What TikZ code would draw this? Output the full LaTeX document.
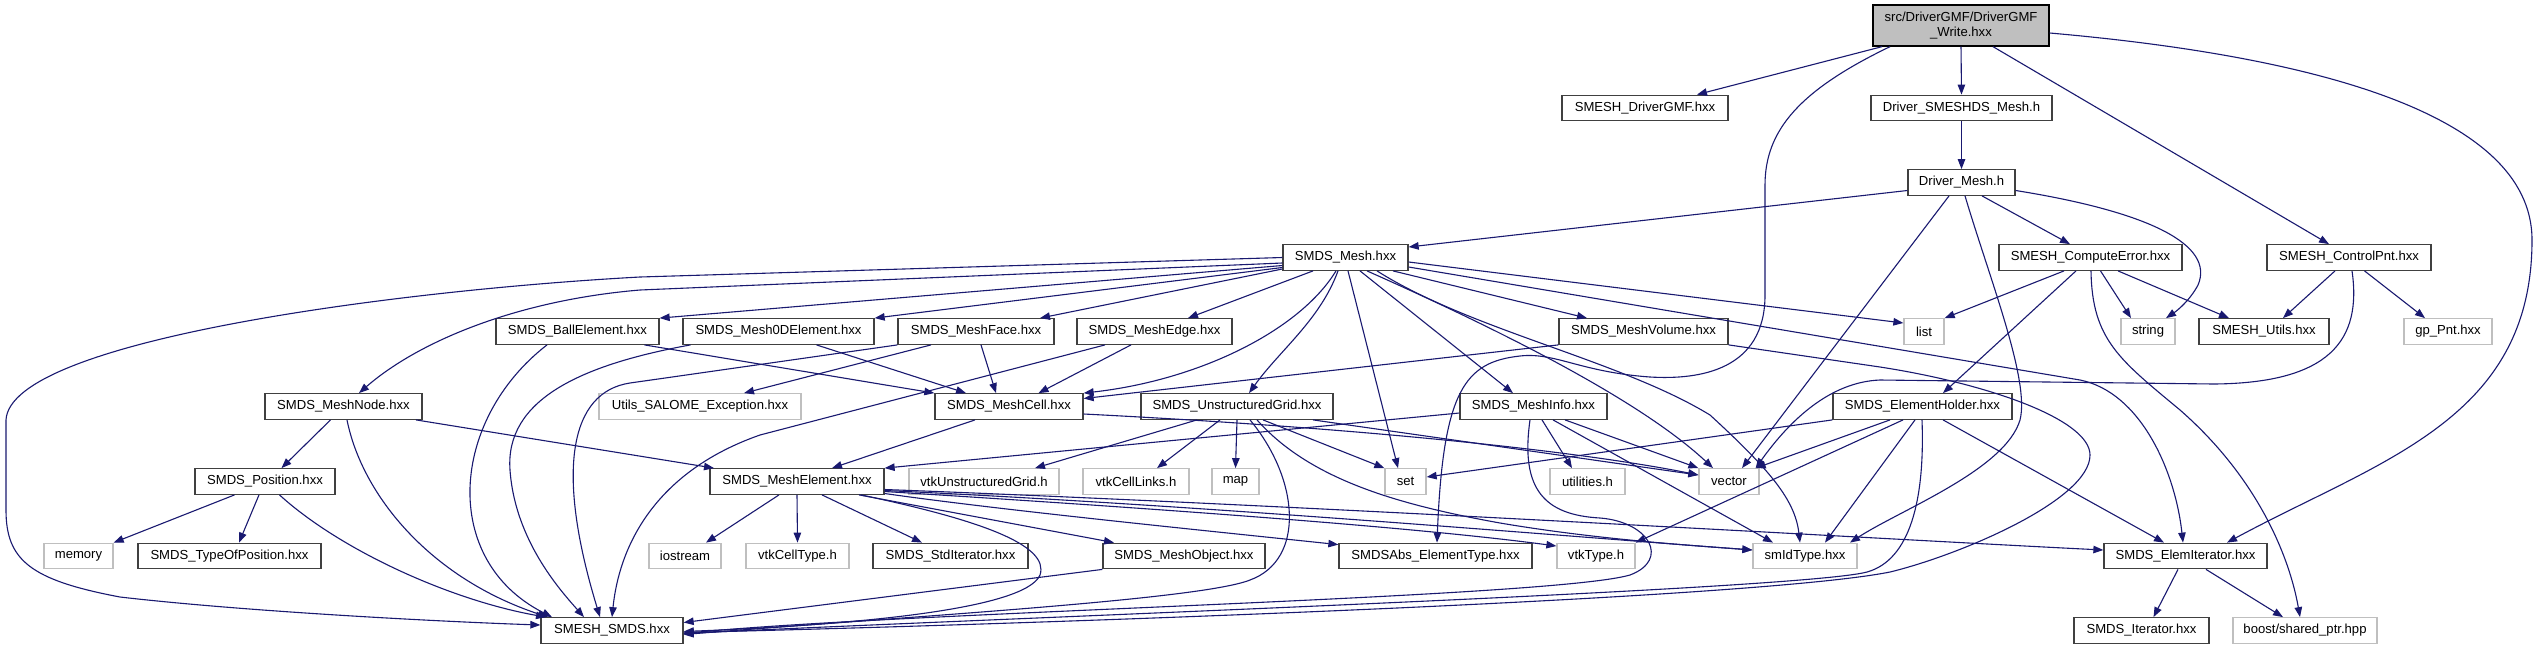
\documentclass[tikz,border=0pt]{standalone}
\usepackage{fontspec}
\setmainfont{Liberation Sans}
\usetikzlibrary{arrows.meta}
\definecolor{edgec}{HTML}{191970}
\definecolor{gbord}{HTML}{BFBFBF}
\definecolor{bbord}{HTML}{404040}
\definecolor{topfill}{HTML}{BFBFBF}
\begin{document}
\begin{tikzpicture}[x=1pt,y=-1pt,
  box/.style={draw=bbord, line width=1.3pt, fill=white, minimum height=25.5pt, inner sep=0pt, font=\fontsize{13.1pt}{15.5pt}\selectfont, text=black},
  gbox/.style={box, draw=gbord},
  e/.style={draw=edgec, line width=1.1pt, -{Triangle[length=10pt,width=7.5pt]}}]
\fill[white] (0,0) rectangle (2535,649);
\useasboundingbox (0,0) rectangle (2535,649);
% row 1
\node[box, fill=topfill, draw=black, minimum width=176pt, minimum height=41pt, align=center] (ntop) at (1961,25.5) {src/DriverGMF/DriverGMF\\\_Write.hxx};
% row 2
\node[box, minimum width=166pt] (ndrvgmf) at (1645,108) {SMESH\_DriverGMF.hxx};
\node[box, minimum width=181pt] (ndsmesh) at (1961.5,108) {Driver\_SMESHDS\_Mesh.h};
% row 3
\node[box, minimum width=107pt] (ndmesh) at (1961.5,182.5) {Driver\_Mesh.h};
% row 4
\node[box, minimum width=125pt] (nsmdsmesh) at (1345.5,257.5) {SMDS\_Mesh.hxx};
\node[box, minimum width=183pt] (ncomperr) at (2090.5,257.5) {SMESH\_ComputeError.hxx};
\node[box, minimum width=164pt] (nctrlpnt) at (2349,257.5) {SMESH\_ControlPnt.hxx};
% row 5
\node[box, minimum width=163pt] (nball) at (577.5,331.5) {SMDS\_BallElement.hxx};
\node[box, minimum width=191pt] (nzero) at (778.5,331.5) {SMDS\_Mesh0DElement.hxx};
\node[box, minimum width=156pt] (nface) at (976,331.5) {SMDS\_MeshFace.hxx};
\node[box, minimum width=155pt] (nedge) at (1154.5,331.5) {SMDS\_MeshEdge.hxx};
\node[box, minimum width=169pt] (nvolume) at (1643.5,331.5) {SMDS\_MeshVolume.hxx};
\node[gbox, minimum width=40pt] (nlist) at (1924,331.5) {list};
\node[gbox, minimum width=54pt] (nstring) at (2148,331.5) {string};
\node[box, minimum width=130pt] (nutils) at (2264,331.5) {SMESH\_Utils.hxx};
\node[gbox, minimum width=88pt] (ngppnt) at (2448,331.5) {gp\_Pnt.hxx};
% row 6
\node[box, minimum width=157pt] (nnode) at (343.5,406.5) {SMDS\_MeshNode.hxx};
\node[gbox, minimum width=202pt] (nsalome) at (700,406.5) {Utils\_SALOME\_Exception.hxx};
\node[box, minimum width=148pt] (ncell) at (1009,406.5) {SMDS\_MeshCell.hxx};
\node[box, minimum width=192pt] (nugrid) at (1237,406.5) {SMDS\_UnstructuredGrid.hxx};
\node[box, minimum width=147pt] (ninfo) at (1533.5,406.5) {SMDS\_MeshInfo.hxx};
\node[box, minimum width=179pt] (nholder) at (1922.5,406.5) {SMDS\_ElementHolder.hxx};
% row 7
\node[box, minimum width=140pt] (nposition) at (265,481.5) {SMDS\_Position.hxx};
\node[box, minimum width=174pt] (nelement) at (797,481.5) {SMDS\_MeshElement.hxx};
\node[gbox, minimum width=150pt] (nvtkug) at (984,481.5) {vtkUnstructuredGrid.h};
\node[gbox, minimum width=106pt] (nvtkcl) at (1136,481.5) {vtkCellLinks.h};
\node[gbox, minimum width=47pt] (nmap) at (1235.5,481.5) {map};
\node[gbox, minimum width=41pt] (nset) at (1405.5,481.5) {set};
\node[gbox, minimum width=75pt] (nutilities) at (1587.5,481.5) {utilities.h};
\node[gbox, minimum width=60pt] (nvector) at (1729,481.5) {vector};
% row 8
\node[gbox, minimum width=69pt] (nmemory) at (78.5,556) {memory};
\node[box, minimum width=183pt] (ntypepos) at (229.5,556) {SMDS\_TypeOfPosition.hxx};
\node[gbox, minimum width=72pt] (niostream) at (685,556) {iostream};
\node[gbox, minimum width=103pt] (nvtkct) at (797.5,556) {vtkCellType.h};
\node[box, minimum width=155pt] (nstditer) at (950.5,556) {SMDS\_StdIterator.hxx};
\node[box, minimum width=162pt] (nmeshobj) at (1184,556) {SMDS\_MeshObject.hxx};
\node[box, minimum width=193pt] (nabs) at (1435.5,556) {SMDSAbs\_ElementType.hxx};
\node[gbox, minimum width=78pt] (nvtktype) at (1596,556) {vtkType.h};
\node[gbox, minimum width=104pt] (nsmid) at (1805,556) {smIdType.hxx};
\node[box, minimum width=163pt] (nelemiter) at (2185.5,556) {SMDS\_ElemIterator.hxx};
% row 9
\node[box, minimum width=142pt] (nsmds) at (612,630.5) {SMESH\_SMDS.hxx};
\node[box, minimum width=135pt] (niter) at (2141.5,630.5) {SMDS\_Iterator.hxx};
\node[gbox, minimum width=144pt] (nboost) at (2305,630.5) {boost/shared\_ptr.hpp};

% ---- edges from top
\draw[e] ([xshift=-79pt]ntop.south) -- ([xshift=52pt]ndrvgmf.north);
\draw[e] (ntop.south) -- (ndsmesh.north);
\draw[e] ([xshift=-71pt]ntop.south) .. controls (1800,90) and (1765,130) .. (1765,185) -- (1765,295) .. controls (1765,370) and (1700,380) .. (1650,377) .. controls (1580,372) and (1555,352) .. (1520,356) .. controls (1465,362) and (1443,390) .. ([xshift=1.5pt]nabs.north);
\draw[e] ([xshift=32pt]ntop.south) -- ([xshift=-20pt]nctrlpnt.north);
\draw[e] ([yshift=-7.5pt]ntop.east) .. controls (2300,55) and (2532,110) .. (2532,240) .. controls (2532,420) and (2380,460) .. ([xshift=41.5pt]nelemiter.north);
% ---- Driver_SMESHDS_Mesh / Driver_Mesh
\draw[e] (ndsmesh.south) -- (ndmesh.north);
\draw[e] ([yshift=-8pt]ndmesh.west) -- ([yshift=10.5pt]nsmdsmesh.east);
\draw[e] ([xshift=20.5pt]ndmesh.south) -- ([xshift=-20.5pt]ncomperr.north);
\draw[e] ([yshift=-8pt]ndmesh.east) .. controls (2150,212) and (2215,245) .. (2198,285) .. controls (2190,300) and (2178,310) .. ([xshift=18pt]nstring.north);
\draw[e] ([xshift=-12.5pt]ndmesh.south) -- ([xshift=13pt]nvector.north);
\draw[e] ([xshift=3.5pt]ndmesh.south) .. controls (1990,280) and (2030,380) .. (2020,420) .. controls (2005,470) and (1900,510) .. ([xshift=45pt]nsmid.north);
% ---- ComputeError
\draw[e] ([xshift=-26.5pt]ncomperr.south) -- (nlist.north east);
\draw[e] ([xshift=10pt]ncomperr.south) -- ([xshift=-17pt]nstring.north);
\draw[e] ([xshift=27.5pt]ncomperr.south) -- ([xshift=-35pt]nutils.north);
\draw[e] ([xshift=-14.5pt]ncomperr.south) -- ([xshift=20.5pt]nholder.north);
\draw[e] ([xshift=0.5pt]ncomperr.south) .. controls (2092,340) and (2120,360) .. (2180,410) .. controls (2260,480) and (2290,560) .. ([xshift=-5pt]nboost.north);
% ---- ControlPnt
\draw[e] ([xshift=-14pt]nctrlpnt.south) -- ([xshift=19pt]nutils.north);
\draw[e] ([xshift=15.5pt]nctrlpnt.south) -- ([xshift=-23pt]ngppnt.north);
\draw[e] ([xshift=3pt]nctrlpnt.south) .. controls (2362,340) and (2330,383) .. (2214,384) -- (1880,380) .. controls (1830,382) and (1790,420) .. ([xshift=-4pt]nvector.north east);
% ---- SMDS_Mesh
\draw[e] (nsmdsmesh.west) -- (640,277) .. controls (400,290) and (10,340) .. (6,420) -- (6,510) .. controls (6,560) and (30,580) .. (120,597) .. controls (250,612) and (450,622) .. ([yshift=5.5pt]nsmds.west);
\draw[e] ([yshift=-5.5pt]nsmdsmesh.west) -- (640,290) .. controls (520,300) and (420,340) .. ([xshift=15.5pt]nnode.north);
\draw[e] ([yshift=-8pt]nsmdsmesh.west) -- (nball.north east);
\draw[e] ([yshift=-10pt]nsmdsmesh.west) -- (nzero.north east);
\draw[e] ([yshift=-11.5pt]nsmdsmesh.west) -- ([xshift=64pt]nface.north);
\draw[e] ([xshift=-32.5pt]nsmdsmesh.south) -- ([xshift=33.5pt]nedge.north);
\draw[e] ([xshift=-9.5pt]nsmdsmesh.south) .. controls (1300,330) and (1200,380) .. (ncell.north east);
\draw[e] ([xshift=-7.5pt]nsmdsmesh.south) .. controls (1320,320) and (1280,350) .. ([xshift=12pt]nugrid.north);
\draw[e] ([xshift=2.5pt]nsmdsmesh.south) -- ([xshift=-7.5pt]nset.north);
\draw[e] ([xshift=14.5pt]nsmdsmesh.south) -- ([xshift=-20.5pt]ninfo.north);
\draw[e] ([xshift=21.5pt]nsmdsmesh.south) .. controls (1500,330) and (1640,400) .. ([xshift=-16pt]nvector.north);
\draw[e] ([xshift=31.5pt]nsmdsmesh.south) .. controls (1470,330) and (1620,360) .. (1710,415) .. controls (1770,470) and (1795,500) .. ([xshift=-5pt]nsmid.north);
\draw[e] ([xshift=47.5pt]nsmdsmesh.south) -- ([xshift=-56.5pt]nvolume.north);
\draw[e] ([yshift=-4.5pt]nsmdsmesh.east) -- ([yshift=8.5pt]nlist.west);
\draw[e] ([yshift=-9.5pt]nsmdsmesh.east) -- (2080,380) .. controls (2140,392) and (2175,470) .. ([xshift=-2.5pt]nelemiter.north);
% ---- MeshNode / Position
\draw[e] ([xshift=-13pt]nnode.south) -- ([xshift=16.5pt]nposition.north);
\draw[e] ([xshift=3.5pt]nnode.south) .. controls (362,495) and (430,578) .. ([xshift=-64pt]nsmds.north);
\draw[e] ([xshift=72.5pt]nnode.south) -- ([xshift=-83pt]nelement.north);
\draw[e] ([xshift=-30.5pt]nposition.south) -- (nmemory.north east);
\draw[e] ([xshift=-6pt]nposition.south) -- ([xshift=9.5pt]ntypepos.north);
\draw[e] ([xshift=14.5pt]nposition.south) .. controls (340,550) and (450,600) .. ([xshift=-66pt]nsmds.north);
% ---- Ball / 0D / Face / Edge / Volume
\draw[e] ([xshift=-30.5pt]nball.south) .. controls (450,420) and (440,560) .. ([xshift=-60pt]nsmds.north);
\draw[e] ([xshift=67pt]nball.south) -- (ncell.north west);
\draw[e] ([xshift=38pt]nzero.south) -- ([xshift=-43pt]ncell.north);
\draw[e] ([xshift=-88pt]nzero.south) .. controls (580,365) and (505,400) .. (510,470) .. controls (515,540) and (560,590) .. ([xshift=-28pt]nsmds.north);
\draw[e] ([xshift=-45pt]nface.south) -- ([xshift=44pt]nsalome.north);
\draw[e] ([xshift=5pt]nface.south) -- ([xshift=-13pt]ncell.north);
\draw[e] (nface.south west) -- (630,383) .. controls (570,392) and (555,470) .. ([xshift=-12pt]nsmds.north);
\draw[e] ([xshift=-23.5pt]nedge.south) -- ([xshift=29.5pt]ncell.north);
\draw[e] ([xshift=-49.5pt]nedge.south) -- (760,435) .. controls (660,470) and (620,540) .. (nsmds.north);
\draw[e] (nvolume.south west) -- ([yshift=8pt]ncell.east);
\draw[e] (nvolume.south east) -- (1880,367) .. controls (1990,384) and (2090,420) .. (2090,455) .. controls (2090,500) and (1960,555) .. (1890,572) .. controls (1750,600) and (1000,625) .. ([yshift=-2pt]nsmds.east);
% ---- MeshCell
\draw[e] ([xshift=-34pt]ncell.south) -- ([xshift=35pt]nelement.north);
\draw[e] ([yshift=-7.5pt]ncell.east) .. controls (1400,430) and (1600,455) .. ([yshift=6.5pt]nvector.west);
% ---- UnstructuredGrid
\draw[e] ([xshift=-40pt]nugrid.south) -- ([xshift=51pt]nvtkug.north);
\draw[e] ([xshift=-17pt]nugrid.south) -- ([xshift=21pt]nvtkcl.north);
\draw[e] (nugrid.south) -- (nmap.north);
\draw[e] ([xshift=26pt]nugrid.south) -- (nset.north west);
\draw[e] ([xshift=76pt]nugrid.south) -- ([yshift=6.5pt]nvector.west);
\draw[e] ([xshift=13pt]nugrid.south) .. controls (1300,480) and (1305,560) .. (1250,580) .. controls (1200,600) and (900,617) .. ([yshift=-4pt]nsmds.east);
\draw[e] ([xshift=20pt]nugrid.south) .. controls (1310,480) and (1400,505) .. (1500,523) .. controls (1600,540) and (1700,546) .. ([yshift=6pt]nsmid.west);
% ---- MeshInfo
\draw[e] ([yshift=-6.5pt]ninfo.west) -- (nelement.north east);
\draw[e] ([xshift=8.5pt]ninfo.south) -- ([xshift=-15.5pt]nutilities.north);
\draw[e] ([xshift=31.5pt]ninfo.south) -- (nvector.north west);
\draw[e] ([xshift=19.5pt]ninfo.south) -- ([xshift=-32pt]nsmid.north);
\draw[e] ([xshift=-3.5pt]ninfo.south) .. controls (1520,490) and (1545,515) .. (1600,518) .. controls (1650,522) and (1670,560) .. (1630,575) .. controls (1550,598) and (900,612) .. ([yshift=-3pt]nsmds.east);
% ---- ElementHolder
\draw[e] (nholder.south west) -- ([yshift=4.5pt]nset.east);
\draw[e] ([xshift=-32.5pt]nholder.south) -- ([xshift=-4pt]nvector.north east);
\draw[e] ([xshift=-7.5pt]nholder.south) -- ([xshift=20pt]nsmid.north);
\draw[e] ([xshift=-19.5pt]nholder.south) -- (nvtktype.north east);
\draw[e] ([xshift=-0.5pt]nholder.south) .. controls (1925,500) and (1910,560) .. (1867,572) .. controls (1800,590) and (1000,618) .. ([yshift=-3pt]nsmds.east);
\draw[e] ([xshift=20.5pt]nholder.south) -- ([xshift=-21.5pt]nelemiter.north);
% ---- MeshElement
\draw[e] ([xshift=-18pt]nelement.south) -- ([xshift=21pt]niostream.north);
\draw[e] (nelement.south) -- (nvtkct.north);
\draw[e] ([xshift=25pt]nelement.south) -- ([xshift=-28.5pt]nstditer.north);
\draw[e] ([xshift=62pt]nelement.south) -- ([xshift=-70pt]nmeshobj.north);
\draw[e] ([xshift=64pt]nelement.south) .. controls (980,520) and (1050,545) .. (1040,575) .. controls (1025,610) and (850,625) .. ([yshift=-1pt]nsmds.east);
\draw[e] ([yshift=-12pt]nelement.east) .. controls (1000,510) and (1200,530) .. ([yshift=-2pt]nabs.north west);
\draw[e] ([yshift=-10pt]nelement.east) .. controls (1100,505) and (1400,525) .. ([yshift=10pt]nvtktype.west);
\draw[e] ([yshift=-9pt]nelement.east) .. controls (1200,505) and (1550,535) .. ([yshift=6pt]nsmid.west);
\draw[e] ([yshift=-8pt]nelement.east) .. controls (1300,505) and (1900,540) .. ([yshift=6pt]nelemiter.west);
\draw[e] (nmeshobj.south west) -- ([yshift=8pt]nsmds.east);
% ---- ElemIterator
\draw[e] ([xshift=-7.5pt]nelemiter.south) -- ([xshift=12pt]niter.north);
\draw[e] ([xshift=20.5pt]nelemiter.south) -- ([xshift=-22pt]nboost.north);
\end{tikzpicture}
\end{document}
